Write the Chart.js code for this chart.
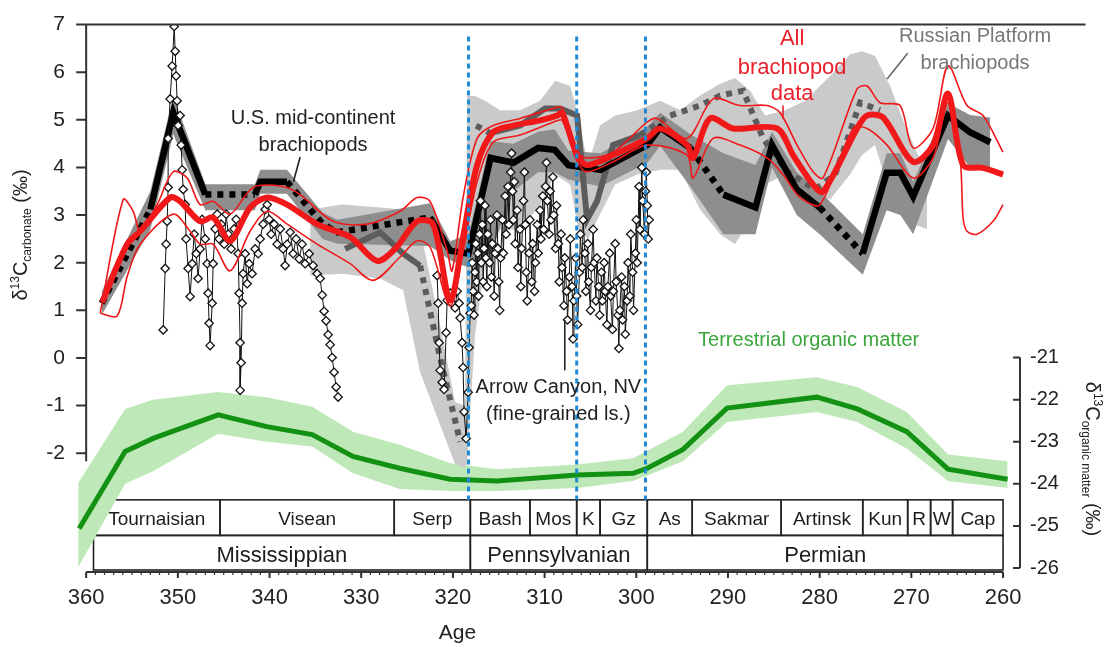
<!DOCTYPE html>
<html><head><meta charset="utf-8">
<script src="https://cdn.jsdelivr.net/npm/chart.js@4.4.1/dist/chart.umd.min.js"></script>
<style>html,body{margin:0;padding:0;background:#fff;}#wrap{width:1105px;height:646px;position:relative;}</style>
</head><body><div id="wrap"><canvas id="c" width="1105" height="646"></canvas></div>
<script>
// ---------- DATA ----------
const xTicks = [360,350,340,330,320,310,300,290,280,270,260];
const yTicks = [7,6,5,4,3,2,1,0,-1,-2];
const y2Ticks = [-21,-22,-23,-24,-25,-26];

// U.S. mid-continent brachiopods (mean + band)
const usAges  = [358.3,353.0,350.5,347.0,341.6,341.0,338.1,334.2,332.6,322.5,320.3,318.3,315.9,313.4,310.7,308.9,307.4,303.9,298.8,297.4,294.1,290.5,287.0,285.2,282.5,280.0,275.3,272.7,271.2,269.8,266.0,263.6,261.4];
const usMean  = [1.15,3.12,5.15,3.43,3.43,3.70,3.70,2.81,2.64,2.95,2.25,2.19,4.20,4.10,4.41,4.37,4.05,3.95,4.47,4.84,4.41,3.43,3.16,4.47,3.54,3.16,2.19,3.89,3.89,3.39,5.09,4.74,4.53];
const usUpper = [1.4,3.5,5.5,3.65,3.65,3.95,3.95,3.05,2.9,3.25,2.45,2.6,4.55,4.5,4.75,4.8,4.35,4.3,4.85,5.15,4.7,4.3,4.05,4.75,3.9,3.5,2.6,4.3,4.3,3.7,5.35,5.1,5.05];
const usLower = [0.9,2.7,4.7,3.1,3.1,3.45,3.45,2.5,2.4,2.35,2.05,1.9,2.2,3.5,3.9,3.9,3.75,3.6,4.1,4.45,3.6,2.6,2.6,4.0,3.0,2.6,1.75,3.1,3.0,2.6,4.6,4.0,3.9];
const usDottedFrom = [358.3,347.0,338.1,334.2,332.6,294.1,280.0];

// Russian Platform brachiopods
const ruAges = [331.76,327.94,325.43,323.58,321.4,319.21,318.4,317.47,315.94,312.67,309.94,308.31,306.45,305.37,304.28,302.53,299.59,296.3,293.04,290.86,288.35,286.17,283.56,280.5,278.32,275.59,273.41];
const ruMean = [2.29,2.64,2.19,1.94,0.01,-1.76,null,4.88,4.72,4.88,5.24,5.24,5.09,2.91,3.29,4.47,4.68,5.09,5.30,5.51,5.61,4.61,3.91,3.54,3.85,5.36,5.20];
const ruDottedFrom = [323.58,321.4,317.47,299.59,296.3,293.04,290.86,288.35,286.17,283.56,280.5,278.32,275.59];
const ruBandAges = [335.57,332.08,327.94,325.43,323.58,321.4,319.76,318.67,318.45,317.58,316.5,314.85,312.67,310.49,308.85,307.2,306.35,305.26,303.95,302.31,299.9,297.4,295.22,293.04,290.86,289.23,287.59,285.95,283.77,281.59,278.87,276.68,275.38,273.96,272.32,270.69,269.27,268.29];
const ruUpper = [3.12,3.22,3.16,3.12,2.71,0.69,-0.93,-1.0,5.5,5.5,5.4,5.2,5.2,5.4,5.82,5.71,5.09,4.05,4.88,5.09,5.2,5.4,5.2,5.51,5.76,5.88,5.61,5.09,5.2,5.4,5.92,6.38,6.44,6.34,5.71,4.88,4.26,3.95];
const ruLower = [1.73,1.77,1.67,1.42,-0.30,-1.40,-2.23,-2.3,-2.2,0.5,2.0,2.7,2.7,3.2,3.85,3.64,2.71,2.5,3.02,3.64,3.85,3.95,3.95,3.12,2.6,2.39,2.91,3.64,3.85,3.54,3.33,3.85,4.26,4.47,3.43,2.91,2.77,2.71];

// All brachiopod data (mean and envelope)
const redAges = [358.26,355.53,354.11,350.84,349.75,347.57,346.15,344.3,342.12,340.26,338.08,334.81,331.21,328.27,326.3,323.9,322.16,320.3,318.89,317.36,315.62,313.43,310.49,308.64,308.09,306.45,305.37,302.53,298.82,297.4,294.46,293.81,291.95,289.44,284.65,282.9,280.72,279.63,275.92,274.83,273.09,269.82,267.63,266.0,264.36,262.18,260.0];
const redMean = [1.17,2.39,2.66,3.37,3.29,2.87,2.95,2.46,3.16,3.37,3.22,2.81,2.54,2.04,2.29,2.87,2.81,1.21,2.54,4.05,4.74,4.88,4.99,5.09,5.15,4.26,4.05,4.26,4.61,4.82,4.47,4.20,5.03,4.82,4.82,4.26,3.64,3.49,4.82,5.09,5.05,4.12,4.47,5.55,4.05,3.99,3.85];
const redUpAges = [358.47,355.97,354.87,354.11,352.26,350.51,348.99,347.57,346.15,344.3,341.79,338.52,336.66,333.06,329.36,325.76,323.9,322.49,320.63,320.09,318.89,317.36,315.62,312.67,309.07,308.09,306.45,305.37,302.53,298.82,297.73,294.46,291.62,288.68,285.74,284.32,282.47,280.72,279.63,275.92,274.83,273.41,271.23,269.82,267.63,266.0,263.93,262.18,260.0];
const redUpper = [0.94,3.33,3.08,2.66,3.22,3.91,3.78,3.22,3.29,3.02,3.58,3.60,3.43,2.87,2.81,3.08,3.37,3.29,2.25,1.83,3.37,4.61,4.88,5.03,5.24,5.26,4.32,4.20,4.32,4.95,5.03,4.61,5.44,5.30,5.30,5.15,4.47,3.91,3.78,5.65,5.71,5.36,5.30,4.41,4.82,6.13,5.30,5.09,4.32];
const redLoAges = [358.47,356.62,355.53,354.11,350.51,348.66,347.57,346.15,344.3,342.12,340.26,338.08,334.81,331.21,328.7,325.76,323.9,322.49,320.3,318.89,317.36,315.62,312.67,309.07,308.09,306.45,305.37,302.53,298.82,294.46,293.81,291.62,288.68,285.74,283.99,282.14,279.96,276.36,274.83,272.65,269.82,267.63,266.0,264.69,264.36,263.93,262.84,261.09,260.0];
const redLower = [0.94,0.88,1.71,2.39,3.02,2.66,2.39,2.39,1.83,2.66,3.08,2.81,2.39,1.98,1.63,2.12,2.46,2.33,1.09,2.25,3.70,4.53,4.68,4.95,4.99,4.12,3.91,4.12,4.47,4.26,3.78,4.61,4.47,4.20,3.85,3.37,3.22,4.82,4.82,4.47,3.78,4.20,5.36,4.20,2.95,2.66,2.60,2.87,3.22];

// U.S. mid-continent individual measurements [age, δ13C]
const midcontinentPoints = [[351.6,0.59],[351.38,1.88],[351.28,2.39],[351.17,2.87],[351.06,3.58],[351.06,4.61],[350.84,5.44],[350.62,6.13],[350.4,6.96],[350.29,6.44],[350.19,5.92],[350.08,5.40],[349.97,4.88],[349.75,5.09],[349.64,4.47],[349.53,3.95],[349.42,3.54],[349.2,3.22],[349.1,2.50],[348.88,1.88],[348.66,1.29],[348.44,1.98],[348.22,2.60],[348.0,2.19],[347.79,1.67],[347.57,2.29],[347.35,2.91],[347.02,2.50],[346.8,1.98],[346.7,1.36],[346.59,0.73],[346.48,0.26],[346.26,1.15],[346.15,1.98],[345.93,2.71],[345.71,3.02],[345.5,2.50],[345.28,2.81],[344.95,2.39],[344.73,3.02],[344.51,2.60],[344.19,2.29],[343.86,2.71],[343.64,2.91],[343.42,2.19],[343.32,1.36],[343.21,0.32],[343.21,-0.68],[343.1,-0.10],[342.99,1.15],[342.88,1.77],[342.66,2.19],[342.44,1.56],[342.22,1.98],[341.9,1.77],[341.57,2.29],[341.24,2.19],[341.03,2.50],[340.7,2.81],[340.48,3.12],[340.26,3.22],[340.04,2.91],[339.83,2.60],[339.5,2.81],[339.17,2.39],[338.84,2.71],[338.52,2.29],[338.3,1.94],[338.08,2.39],[337.75,2.64],[337.43,2.19],[337.1,2.50],[336.77,2.08],[336.45,2.39],[336.12,1.98],[335.68,2.19],[335.25,1.94],[334.81,1.77],[334.48,1.67],[334.26,1.32],[334.05,0.98],[333.83,0.78],[333.61,0.49],[333.39,0.28],[333.17,0.01],[332.96,-0.30],[332.74,-0.61],[332.52,-0.82]];

// Arrow Canyon, NV (fine-grained limestone) [age, δ13C]
const arrowCanyonPoints = [[321.72,1.73],[321.61,1.15],[321.5,0.32],[321.4,-0.26],[321.18,-0.51],[320.96,-0.66],[320.74,0.53],[320.63,1.21],[320.3,1.36],[320.09,1.15],[319.76,1.05],[319.54,1.40],[319.32,1.15],[319.21,0.84],[319.0,0.32],[318.89,-0.20],[318.78,-1.13],[318.56,-1.69],[318.34,-0.72],[318.23,0.22],[318.12,0.94],
[318.0,1.1],[317.9,2.0],[317.8,1.4],[317.7,0.9],[317.6,1.8],[317.5,2.4],[317.4,1.6],[317.3,2.2],[317.2,1.3],[317.1,2.6],[317.0,3.3],[316.9,2.0],[316.8,2.8],[316.7,1.6],[316.6,2.3],[316.5,3.2],[316.4,2.1],[316.3,1.5],[316.2,2.6],[316.0,2.0],[315.9,2.9],[315.8,1.7],[315.7,2.4],[315.5,1.3],[315.4,2.2],[315.2,3.0],[315.1,2.3],[315.0,1.6],[314.9,1.0],[314.8,2.1],[314.6,2.9],[314.5,2.2],[314.3,3.4],[314.2,2.6],[314.0,3.6],[313.9,2.8],[313.7,3.9],[313.6,4.3],[313.5,3.5],[313.4,2.9],[313.3,3.7],[313.2,2.4],[313.0,3.1],[312.9,1.9],[312.7,2.7],[312.6,1.5],[312.5,2.3],[312.3,3.3],[312.2,3.9],[312.1,2.8],[312.0,1.8],[311.9,1.2],[311.7,2.2],[311.6,2.9],[311.4,1.6],[311.3,2.4],[311.1,1.4],[311.0,2.0],[310.8,2.8],[310.7,2.2],[310.5,3.1],[310.4,2.5],[310.2,3.4],[310.1,2.7],[309.9,3.6],[309.8,4.1],[309.7,3.3],[309.5,2.6],[309.4,3.5],[309.3,2.9],[309.1,3.8],[309.0,3.0],[308.8,2.3],[308.7,3.2],[308.5,2.4],[308.4,1.6],[308.2,2.6],[308.1,1.9],[307.9,1.1],[307.8,2.1],[307.6,1.4],[307.5,0.8],[307.3,1.7],[307.2,2.5],[307.0,1.5],[306.9,0.4],[306.8,1.2],[306.6,2.1],[306.5,1.3],[306.4,0.7],[306.2,1.8],[306.1,2.6],[305.9,1.9],[305.8,2.9],[305.6,2.2],[305.5,1.4],[305.3,2.4],[305.2,1.6],[305.0,1.0],[304.9,1.9],[304.7,2.7],[304.6,2.0],[304.4,1.2],[304.3,2.1],[304.1,1.5],[304.0,0.9],[303.8,1.8],[303.7,1.2],[303.5,2.0],[303.4,1.4],[303.2,0.7],[303.1,1.5],[302.9,2.2],[302.8,1.3],[302.6,0.6],[302.5,1.4],[302.3,2.4],[302.2,1.6],[302.0,0.9],[301.9,0.2],[301.8,1.0],[301.6,1.7],[301.5,0.8],[301.3,1.5],[301.2,0.5],[301.0,1.2],[300.9,2.0],[300.7,1.3],[300.6,2.6],[300.4,1.8],[300.3,1.0],[300.1,2.2],[300.0,2.9],[299.9,2.0],[299.7,3.6],[299.6,2.7],[299.4,4.0],[299.3,3.3],[299.1,2.6],[299.0,3.5],[298.9,3.9],[298.8,3.2],[298.7,2.5],[298.6,2.9]];

// Terrestrial organic matter (right axis)
const orgAges = [360.76,355.75,352.7,345.6,340.3,335.35,330.9,325.8,320.3,315.2,306.45,300.35,298.8,294.9,290.1,280.3,275.9,270.5,266.0,259.5];
const orgMean = [-25.06,-23.23,-22.92,-22.36,-22.64,-22.83,-23.35,-23.63,-23.89,-23.93,-23.79,-23.75,-23.63,-23.18,-22.20,-21.94,-22.22,-22.76,-23.65,-23.89];
const orgBandAges = [360.87,355.75,352.7,345.6,340.3,335.35,330.9,325.8,320.3,315.2,306.45,300.35,294.9,290.1,280.3,275.9,270.5,266.0,259.5];
const orgUpper = [-23.98,-22.22,-22.0,-21.82,-21.94,-22.17,-22.76,-23.07,-23.51,-23.65,-23.54,-23.39,-22.76,-21.66,-21.47,-21.70,-22.29,-23.30,-23.46];
const orgLower = [-25.98,-24.0,-23.7,-22.81,-23.0,-23.11,-23.75,-24.12,-24.17,-24.17,-24.1,-23.93,-23.46,-22.53,-22.29,-22.53,-23.16,-23.93,-24.10];

// Geologic time scale
const stageNames  = ['Tournaisian','Visean','Serp','Bash','Mos','K','Gz','As','Sakmar','Artinsk','Kun','R','W','Cap'];
const stageBounds = [359.2,345.4,326.4,318.1,311.6,306.5,303.95,298.8,293.9,284.2,275.3,270.4,267.9,265.5,260.0];
const periodNames  = ['Mississippian','Pennsylvanian','Permian'];
const periodBounds = [359.2,318.1,298.8,260.0];
const boundaryAges = [318.3,306.5,299.0];

// ---------- LAYOUT / STYLE ----------
const FONT = '"Liberation Sans", Arial, Helvetica, sans-serif';
const RED = '#f01818';
const scaleRows = [-2.979, -3.726, -4.452];      // timescale rows, in left-axis units
const blueSpan = [6.75, -2.979];
const annotations = [
  {t:'U.S. mid-continent', a:335.25, v:5.03, c:'#222', s:20},
  {t:'brachiopods', a:335.25, v:4.47, c:'#222', s:20},
  {t:'All', a:283.0, v:6.69, c:'#e8202a', s:22},
  {t:'brachiopod', a:283.0, v:6.09, c:'#e8202a', s:22},
  {t:'data', a:283.0, v:5.55, c:'#e8202a', s:22},
  {t:'Russian Platform', a:263.05, v:6.75, c:'#777', s:20},
  {t:'brachiopods', a:263.05, v:6.19, c:'#777', s:20},
  {t:'Arrow Canyon, NV', a:308.5, v:-0.63, c:'#222', s:20},
  {t:'(fine-grained ls.)', a:308.5, v:-1.19, c:'#222', s:20},
  {t:'Terrestrial organic matter', a:293.26, v:0.36, c:'#3aa53a', s:20, left:true}
];
const pointers = [
  {a0:336.66, v0:4.22, a1:337.4, v1:3.70, c:'#222', w:1.6},
  {a0:284.0, v0:5.3, a1:284.0, v1:5.02, c:'#e8202a', w:1.6},
  {a0:270.4, v0:6.4, a1:272.65, v1:5.86, c:'#666', w:1.6},
  {a0:307.8, v0:0.8, a1:307.8, v1:-0.26, c:'#222', w:1.6}
];

const xy = (xs, ys) => xs.map((x, i) => ({x: x, y: ys[i]}));
const pp = arr => arr.map(p => ({x: p[0], y: p[1]}));

const band = (label, ages, vals, color, fill, order, axis) => ({
  label, data: xy(ages, vals), borderWidth: 0, pointRadius: 0, backgroundColor: color,
  fill: fill, order: order, yAxisID: axis || 'y', tension: 0
});

const datasets = [
  band('Organic upper', orgBandAges, orgUpper, '#bfe8b8', '+1', 20, 'y2'),
  band('Organic lower', orgBandAges, orgLower, '#bfe8b8', false, 20, 'y2'),
  {label:'Terrestrial organic matter', data: xy(orgAges, orgMean), yAxisID:'y2', borderColor:'#139113', borderWidth:5, pointRadius:0, fill:false, order:19},
  band('Russian upper', ruBandAges, ruUpper, '#cacaca', '+1', 18),
  band('Russian lower', ruBandAges, ruLower, '#cacaca', false, 18),
  band('US upper', usAges, usUpper, '#8e8e8e', '+1', 17),
  band('US lower', usAges, usLower, '#8e8e8e', false, 17),
  {label:'Russian Platform brachiopods', data: xy(ruAges, ruMean), borderColor:'#5c5c5c', borderWidth:6, pointRadius:0, fill:false, order:16, spanGaps:false,
   segment:{borderDash: c => ruDottedFrom.includes(ruAges[c.p0DataIndex]) ? [6,6] : undefined}},
  {label:'U.S. mid-continent brachiopods', data: xy(usAges, usMean), borderColor:'#000', borderWidth:6.5, pointRadius:0, fill:false, order:15,
   segment:{borderDash: c => usDottedFrom.includes(usAges[c.p0DataIndex]) ? [6,6] : undefined}},
  {label:'U.S. mid-continent data', data: pp(midcontinentPoints), borderColor:'#111', borderWidth:1, pointStyle:'rectRot', pointRadius:4.2,
   pointBackgroundColor:'#fff', pointBorderColor:'#111', pointBorderWidth:1.3, fill:false, order:10},
  {label:'Arrow Canyon, NV', data: pp(arrowCanyonPoints), borderColor:'#111', borderWidth:1, pointStyle:'rectRot', pointRadius:4.2,
   pointBackgroundColor:'#fff', pointBorderColor:'#111', pointBorderWidth:1.3, fill:false, order:9},
  {label:'All brachiopods upper', data: xy(redUpAges, redUpper), borderColor:RED, borderWidth:1.6, pointRadius:0, fill:false, tension:0.3, order:3},
  {label:'All brachiopods lower', data: xy(redLoAges, redLower), borderColor:RED, borderWidth:1.6, pointRadius:0, fill:false, tension:0.3, order:3},
  {label:'All brachiopod data', data: xy(redAges, redMean), borderColor:RED, borderWidth:6, pointRadius:0, fill:false, tension:0.3, borderJoinStyle:'round', order:1}
];

function richText(ctx, parts, x, y, ang) {
  ctx.save(); ctx.translate(x, y); ctx.rotate(ang);
  let total = 0;
  parts.forEach(p => { ctx.font = p.s + 'px ' + FONT; p.w = ctx.measureText(p.t).width; total += p.w; });
  let cx = -total / 2;
  ctx.textAlign = 'left'; ctx.textBaseline = 'alphabetic'; ctx.fillStyle = '#222';
  parts.forEach(p => { ctx.font = p.s + 'px ' + FONT; ctx.fillText(p.t, cx, p.dy); cx += p.w; });
  ctx.restore();
}

const decor = {
  id: 'decor',
  beforeDatasetsDraw(chart) {
    const {ctx, scales: {x, y}} = chart;
    const yT = y.getPixelForValue(scaleRows[0]), yM = y.getPixelForValue(scaleRows[1]), yB = y.getPixelForValue(scaleRows[2]);
    ctx.save();
    ctx.strokeStyle = '#222'; ctx.lineWidth = 1.6; ctx.fillStyle = '#1c1c1c';
    ctx.textAlign = 'center'; ctx.textBaseline = 'middle';
    ctx.font = '19px ' + FONT;
    for (let i = 0; i < stageNames.length; i++) {
      const x0 = x.getPixelForValue(stageBounds[i]), x1 = x.getPixelForValue(stageBounds[i + 1]);
      ctx.strokeRect(x0, yT, x1 - x0, yM - yT);
      ctx.fillText(stageNames[i], (x0 + x1) / 2, (yT + yM) / 2 + 2);
    }
    ctx.font = '22px ' + FONT;
    for (let i = 0; i < periodNames.length; i++) {
      const x0 = x.getPixelForValue(periodBounds[i]), x1 = x.getPixelForValue(periodBounds[i + 1]);
      ctx.strokeRect(x0, yM, x1 - x0, yB - yM);
      ctx.fillText(periodNames[i], (x0 + x1) / 2, (yM + yB) / 2 + 3);
    }
    ctx.restore();
  },
  afterDatasetsDraw(chart) {
    const {ctx, chartArea: ca, scales: {x, y, y2}} = chart;
    ctx.save();
    // blue boundary lines
    ctx.strokeStyle = '#1f8ad6'; ctx.lineWidth = 3; ctx.setLineDash([5, 4]);
    boundaryAges.forEach(a => {
      const px = x.getPixelForValue(a);
      ctx.beginPath(); ctx.moveTo(px, y.getPixelForValue(blueSpan[0])); ctx.lineTo(px, y.getPixelForValue(blueSpan[1])); ctx.stroke();
    });
    ctx.setLineDash([]);
    // axes
    ctx.strokeStyle = '#333'; ctx.lineWidth = 2;
    const x360 = x.getPixelForValue(360), x260 = x.getPixelForValue(260);
    ctx.beginPath();
    ctx.moveTo(x360, y.getPixelForValue(7)); ctx.lineTo(x360, y.getPixelForValue(-2.17));
    ctx.moveTo(x360, y.getPixelForValue(7)); ctx.lineTo(x.getPixelForValue(251), y.getPixelForValue(7));
    yTicks.forEach(v => { const py = y.getPixelForValue(v); ctx.moveTo(x360 - 10, py); ctx.lineTo(x360, py); });
    const yb = ca.bottom;
    ctx.moveTo(x360, yb); ctx.lineTo(x260, yb);
    xTicks.forEach(v => { const px = x.getPixelForValue(v); ctx.moveTo(px, yb); ctx.lineTo(px, yb + 6); });
    const r = ca.right;
    ctx.moveTo(r, y2.getPixelForValue(-21)); ctx.lineTo(r, y2.getPixelForValue(-26));
    y2Ticks.forEach(v => { const py = y2.getPixelForValue(v); ctx.moveTo(r - 7, py); ctx.lineTo(r, py); });
    ctx.stroke();
    ctx.lineWidth = 1.2; ctx.beginPath();
    for (let a = 360; a >= 260; a--) { const px = x.getPixelForValue(a); ctx.moveTo(px, yb); ctx.lineTo(px, yb + 3); }
    ctx.stroke();
    // pointers
    pointers.forEach(p => {
      ctx.strokeStyle = p.c; ctx.lineWidth = p.w; ctx.beginPath();
      ctx.moveTo(x.getPixelForValue(p.a0), y.getPixelForValue(p.v0));
      ctx.lineTo(x.getPixelForValue(p.a1), y.getPixelForValue(p.v1)); ctx.stroke();
    });
    // annotations
    ctx.textBaseline = 'middle';
    annotations.forEach(n => {
      ctx.font = n.s + 'px ' + FONT; ctx.fillStyle = n.c; ctx.textAlign = n.left ? 'left' : 'center';
      ctx.fillText(n.t, x.getPixelForValue(n.a), y.getPixelForValue(n.v));
    });
    // axis titles
    ctx.fillStyle = '#222'; ctx.textAlign = 'center'; ctx.font = '21px ' + FONT;
    ctx.fillText('Age', x.getPixelForValue(319.5), 633);
    richText(ctx, [{t:'δ', s:20, dy:0}, {t:'13', s:12, dy:-8}, {t:'C', s:20, dy:0}, {t:'carbonate', s:12, dy:4}, {t:' (‰)', s:20, dy:0}], 27, 235, -Math.PI / 2);
    richText(ctx, [{t:'δ', s:20, dy:0}, {t:'13', s:12, dy:-8}, {t:'C', s:20, dy:0}, {t:'organic matter', s:12, dy:4}, {t:' (‰)', s:20, dy:0}], 1086, 459, Math.PI / 2);
    ctx.restore();
  }
};

const tickFont = s => ({size: s, family: FONT});
new Chart(document.getElementById('c'), {
  type: 'line',
  data: {datasets},
  options: {
    responsive: false, animation: false, events: [], devicePixelRatio: 1,
    layout: {padding: {top: 18, left: 0, right: 0, bottom: 0}},
    plugins: {legend: {display: false}, tooltip: {enabled: false}},
    scales: {
      x: {type: 'linear', min: 258.15, max: 361, reverse: true, position: 'bottom',
          afterFit: s => { s.height = 74; },
          afterBuildTicks: s => { s.ticks = xTicks.map(v => ({value: v})); },
          ticks: {font: tickFont(22), color: '#222', padding: 13, maxRotation: 0, autoSkip: false},
          grid: {display: false, drawTicks: false}, border: {display: false}},
      y: {type: 'linear', min: -4.494, max: 7, position: 'left',
          afterFit: s => { s.width = 77; },
          afterBuildTicks: s => { s.ticks = yTicks.map(v => ({value: v})); },
          ticks: {font: tickFont(21), color: '#222', padding: 12},
          grid: {display: false, drawTicks: false}, border: {display: false}},
      y2: {type: 'linear', min: -26.094, max: -13.089, position: 'right',
          afterFit: s => { s.width = 85; },
          afterBuildTicks: s => { s.ticks = y2Ticks.map(v => ({value: v})); },
          ticks: {font: tickFont(20), color: '#222', padding: 10},
          grid: {display: false, drawTicks: false}, border: {display: false}}
    }
  },
  plugins: [decor]
});
</script></body></html>
